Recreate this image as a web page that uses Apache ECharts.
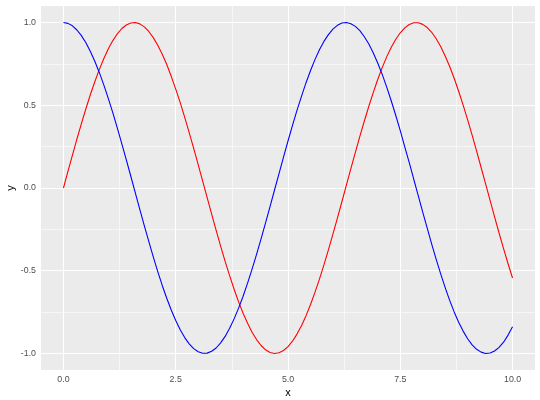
<!DOCTYPE html>
<html><head><meta charset="utf-8">
<script src="https://cdn.jsdelivr.net/npm/echarts@6/dist/echarts.min.js"></script>
<style>html,body{margin:0;padding:0;background:#fff}#c{width:540px;height:400px}</style>
</head><body><div id="c"></div>
<script>
const xs = [0,0.1,0.2,0.3,0.4,0.5,0.6,0.7,0.8,0.9,1,1.1,1.2,1.3,1.4,1.5,1.6,1.7,1.8,1.9,2,2.1,2.2,2.3,2.4,2.5,2.6,2.7,2.8,2.9,3,3.1,3.2,3.3,3.4,3.5,3.6,3.7,3.8,3.9,4,4.1,4.2,4.3,4.4,4.5,4.6,4.7,4.8,4.9,5,5.1,5.2,5.3,5.4,5.5,5.6,5.7,5.8,5.9,6,6.1,6.2,6.3,6.4,6.5,6.6,6.7,6.8,6.9,7,7.1,7.2,7.3,7.4,7.5,7.6,7.7,7.8,7.9,8,8.1,8.2,8.3,8.4,8.5,8.6,8.7,8.8,8.9,9,9.1,9.2,9.3,9.4,9.5,9.6,9.7,9.8,9.9,10];
const redY = [0.000,0.100,0.199,0.296,0.389,0.479,0.565,0.644,0.717,0.783,0.841,0.891,0.932,0.964,0.985,0.997,1.000,0.992,0.974,0.946,0.909,0.863,0.808,0.746,0.675,0.598,0.516,0.427,0.335,0.239,0.141,0.042,-0.058,-0.158,-0.256,-0.351,-0.443,-0.530,-0.612,-0.688,-0.757,-0.818,-0.872,-0.916,-0.952,-0.978,-0.994,-1.000,-0.996,-0.982,-0.959,-0.926,-0.883,-0.832,-0.773,-0.706,-0.631,-0.551,-0.465,-0.374,-0.279,-0.182,-0.083,0.017,0.117,0.215,0.312,0.405,0.494,0.578,0.657,0.729,0.794,0.851,0.899,0.938,0.968,0.988,0.999,0.999,0.989,0.970,0.941,0.902,0.855,0.798,0.734,0.663,0.585,0.501,0.412,0.319,0.223,0.124,0.025,-0.075,-0.174,-0.272,-0.366,-0.458,-0.544];
const blueY = [1.000,0.995,0.980,0.955,0.921,0.878,0.825,0.765,0.697,0.622,0.540,0.454,0.362,0.267,0.170,0.071,-0.029,-0.129,-0.227,-0.323,-0.416,-0.505,-0.589,-0.666,-0.737,-0.801,-0.857,-0.904,-0.942,-0.971,-0.990,-0.999,-0.998,-0.987,-0.967,-0.936,-0.897,-0.848,-0.791,-0.726,-0.654,-0.575,-0.490,-0.401,-0.307,-0.211,-0.112,-0.012,0.087,0.187,0.284,0.378,0.469,0.554,0.635,0.709,0.776,0.835,0.886,0.927,0.960,0.983,0.997,1.000,0.993,0.977,0.951,0.914,0.870,0.816,0.754,0.685,0.608,0.526,0.438,0.347,0.249,0.153,0.053,-0.046,-0.146,-0.243,-0.339,-0.431,-0.519,-0.602,-0.679,-0.749,-0.811,-0.865,-0.911,-0.948,-0.975,-0.992,-1.000,-0.997,-0.985,-0.963,-0.932,-0.889,-0.839];
const xTicks = [0,2.5,5,7.5,10];
const xMinor = [1.25,3.75,6.25,8.75];
const yTicks = [-1,-0.5,0,0.5,1];
const yMinor = [-0.75,-0.25,0.25,0.75];

const chart = echarts.init(document.getElementById('c'), null, {renderer:'canvas'});
const font = 'Liberation Sans, Arial, Helvetica, sans-serif';
const gridLines = [];
xMinor.forEach(v => gridLines.push({xAxis: v, lineStyle:{width:0.55}}));
yMinor.forEach(v => gridLines.push({yAxis: v, lineStyle:{width:0.55}}));
xTicks.forEach(v => gridLines.push({xAxis: v, lineStyle:{width:1.1}}));
yTicks.forEach(v => gridLines.push({yAxis: v, lineStyle:{width:1.1}}));

chart.setOption({
  animation: false,
  grid: {left: 41, right: 5, top: 6, bottom: 30, show: true, backgroundColor: '#EBEBEB', borderWidth: 0, containLabel: false, outerBoundsMode: 'none'},
  xAxis: {
    type: 'value', min: -0.5, max: 10.5,
    name: 'x', nameLocation: 'middle', nameGap: 17, nameMoveOverlap: false,
    nameTextStyle: {color: '#000', fontSize: 11, fontFamily: font},
    axisLine: {show: false},
    axisTick: {show: true, customValues: xTicks, length: 3, lineStyle: {color: '#333333', width: 1}},
    axisLabel: {customValues: xTicks, color: '#4D4D4D', fontSize: 8.8, fontFamily: font, margin: 5, formatter: v => v.toFixed(1)},
    splitLine: {show: false}
  },
  yAxis: {
    type: 'value', min: -1.1, max: 1.1,
    name: 'y', nameLocation: 'middle', nameGap: 25, nameMoveOverlap: false,
    nameTextStyle: {color: '#000', fontSize: 11, fontFamily: font},
    axisLine: {show: false},
    axisTick: {show: true, customValues: yTicks, length: 3, lineStyle: {color: '#333333', width: 1}},
    axisLabel: {customValues: yTicks, color: '#4D4D4D', fontSize: 8.8, fontFamily: font, margin: 5, formatter: v => v.toFixed(1)},
    splitLine: {show: false}
  },
  series: [
    {type: 'line', data: [], z: 1, silent: true,
     markLine: {silent: true, symbol: 'none', animation: false, z: 1, label: {show: false},
       lineStyle: {color: '#FFFFFF', type: 'solid'}, emphasis: {disabled: true}, data: gridLines}},
    {type: 'line', z: 5, showSymbol: false, smooth: false, data: xs.map((x,i)=>[x, redY[i]]),
     lineStyle: {color: '#FF0000', width: 1.1}, itemStyle: {color: '#FF0000'}},
    {type: 'line', z: 5, showSymbol: false, smooth: false, data: xs.map((x,i)=>[x, blueY[i]]),
     lineStyle: {color: '#0000FF', width: 1.1}, itemStyle: {color: '#0000FF'}}
  ]
});
</script></body></html>
